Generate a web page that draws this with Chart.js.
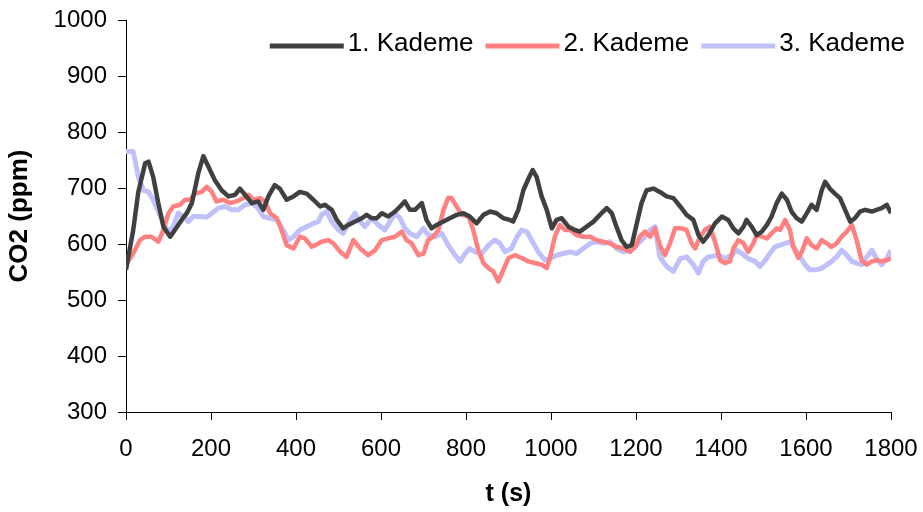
<!DOCTYPE html>
<html><head><meta charset="utf-8">
<script src="https://cdn.jsdelivr.net/npm/chart.js@4.4.0/dist/chart.umd.min.js"></script>
<style>html,body{margin:0;padding:0;background:#fff}#wrap{width:923px;height:512px}</style>
</head><body><div id="wrap"><canvas id="c" width="923" height="512"></canvas></div>
<script>
// ---- data ----
const seriesNames = ['1. Kademe', '2. Kademe', '3. Kademe'];

const t1 = [0,17,29,45,53,64,76,88,104,115,131,143,155,170,182,194,209,225,241,257,268,280,296,311,323,335,350,362,378,394,409,425,441,457,468,484,496,511,523,539,555,566,578,590,602,617,633,645,656,668,680,696,707,719,731,747,762,778,794,809,825,841,857,872,888,903,911,923,935,947,957,966,978,990,1002,1013,1025,1041,1056,1068,1084,1100,1115,1131,1143,1154,1166,1178,1190,1202,1213,1225,1241,1256,1272,1288,1304,1319,1335,1347,1358,1370,1386,1402,1417,1429,1441,1453,1460,1472,1484,1496,1508,1519,1531,1543,1555,1566,1578,1590,1602,1613,1625,1637,1645,1656,1668,1680,1692,1704,1715,1727,1739,1755,1766,1778,1790,1800];
const co2_1 = [554,625,693,744,747,720,673,631,613,625,643,655,673,726,757,738,714,696,685,688,699,688,673,676,661,685,705,699,679,685,693,690,679,667,670,661,643,628,634,640,646,652,646,646,655,649,658,667,676,661,661,673,643,628,634,640,646,652,655,649,637,652,658,655,646,643,640,661,696,717,732,720,685,661,628,643,646,631,625,622,631,640,652,664,655,631,607,595,598,637,673,696,699,693,685,682,667,652,643,616,604,616,637,649,643,628,619,631,643,631,616,622,634,649,673,690,679,658,646,640,655,670,661,696,711,699,690,682,661,640,646,658,661,658,661,664,670,655];

const t2 = [0,17,33,45,60,76,88,100,111,127,139,151,162,178,190,202,213,229,245,260,276,288,300,315,327,339,355,366,378,394,409,421,437,453,460,476,488,504,519,535,551,570,586,602,617,633,649,660,672,688,700,711,723,735,747,758,766,778,790,806,817,829,841,853,864,876,888,900,915,931,947,962,978,990,998,1009,1021,1033,1045,1060,1076,1092,1107,1123,1139,1154,1170,1186,1198,1209,1221,1233,1245,1256,1268,1280,1292,1307,1319,1331,1339,1351,1362,1374,1386,1398,1409,1421,1429,1441,1453,1464,1476,1484,1496,1508,1519,1531,1539,1551,1562,1570,1582,1590,1602,1613,1625,1637,1649,1660,1672,1684,1696,1708,1719,1731,1743,1755,1766,1778,1790,1800];
const co2_2 = [563,583,607,613,613,604,625,655,667,670,679,679,690,693,702,693,676,679,673,676,682,688,679,682,676,655,646,625,598,592,613,610,595,601,604,607,601,586,577,607,592,580,589,607,610,613,622,607,601,580,583,607,613,625,661,682,682,667,652,649,625,589,566,557,551,533,554,575,580,575,569,566,563,557,577,613,634,625,625,616,613,613,607,604,601,595,592,586,595,613,622,613,628,598,580,601,628,628,625,601,592,613,625,631,604,571,566,569,592,607,601,586,601,616,613,610,619,628,625,643,625,595,575,586,610,598,592,607,601,595,601,613,622,634,607,571,563,569,571,569,571,575];

const t3 = [0,17,29,41,53,64,76,88,100,111,123,135,147,158,174,190,202,217,233,249,264,280,296,311,323,339,355,370,382,394,409,425,441,453,460,472,484,500,511,523,539,551,562,578,594,609,621,633,645,656,668,684,700,711,727,743,758,774,786,798,809,821,837,853,868,880,892,907,920,931,943,954,970,986,998,1013,1029,1045,1060,1076,1092,1107,1123,1139,1154,1170,1186,1202,1217,1233,1245,1256,1272,1288,1304,1319,1335,1347,1358,1370,1394,1409,1425,1437,1449,1464,1480,1492,1504,1515,1527,1539,1551,1562,1574,1586,1598,1609,1625,1637,1649,1660,1672,1684,1696,1708,1719,1731,1743,1755,1766,1778,1790,1800];
const co2_3 = [765,765,720,696,693,679,658,637,622,631,655,649,640,649,649,648,655,664,667,661,661,670,673,664,649,646,643,625,607,613,625,631,637,640,652,658,640,625,619,637,655,640,631,646,634,625,640,655,646,628,619,613,628,616,613,619,598,580,569,583,592,586,583,598,607,601,586,592,613,625,622,607,586,571,574,580,583,586,583,592,601,604,601,604,592,586,589,598,610,625,631,577,560,551,574,577,563,548,569,577,580,574,580,589,583,574,569,560,571,583,595,598,601,604,592,577,563,554,554,557,563,569,577,589,580,569,566,563,577,589,574,563,574,589];

const xTickValues = [0,200,400,600,800,1000,1200,1400,1600,1800];
const yTickValues = [300,400,500,600,700,800,900,1000];

// ---- styles ----
const FONT = '"Liberation Sans", Arial, sans-serif';
const lineColors = ['#404040', '#FF8080', '#C0C0FA'];
const lineWidths = [4.5, 4.5, 5];

const toPoints = (ts, vs) => ts.map((t, i) => ({x: t, y: vs[i]}));
const seriesT = [t1, t2, t3];
const seriesV = [co2_1, co2_2, co2_3];

const datasets = seriesNames.map((name, i) => ({
  label: name,
  data: toPoints(seriesT[i], seriesV[i]),
  borderColor: lineColors[i],
  backgroundColor: lineColors[i],
  borderWidth: lineWidths[i],
  pointRadius: 0,
  tension: 0,
  borderJoinStyle: 'round',
  fill: false
}));

const legendPlugin = {
  id: 'insideLegend',
  afterDraw(chart) {
    const ctx = chart.ctx;
    ctx.save();
    ctx.font = '26px ' + FONT;
    ctx.textBaseline = 'middle';
    ctx.textAlign = 'left';
    let x = 905;
    const yText = 44, yLine = 46;
    const ds = chart.data.datasets;
    for (let i = ds.length - 1; i >= 0; i--) {
      const w = ctx.measureText(ds[i].label).width;
      x -= w;
      ctx.fillStyle = '#000';
      ctx.fillText(ds[i].label, x, yText);
      x -= 4;
      ctx.strokeStyle = ds[i].borderColor;
      ctx.lineWidth = 5;
      ctx.beginPath();
      ctx.moveTo(x - 74, yLine);
      ctx.lineTo(x, yLine);
      ctx.stroke();
      x -= 74 + 12;
    }
    ctx.restore();
  }
};

new Chart(document.getElementById('c'), {
  type: 'line',
  data: { datasets },
  options: {
    responsive: false,
    animation: false,
    layout: { padding: { left: 0, right: 32, top: 20, bottom: 0 } },
    plugins: { legend: { display: false }, tooltip: { enabled: false } },
    scales: {
      x: {
        type: 'linear', min: 0, max: 1800,
        afterBuildTicks: s => { s.ticks = xTickValues.map(v => ({value: v})); },
        afterFit: s => { s.height = 100; s.paddingLeft = 0; s.paddingRight = 0; },
        grid: { drawOnChartArea: false, drawTicks: true, tickLength: 8, color: '#000', lineWidth: 1 },
        border: { display: true, color: '#000', width: 1 },
        ticks: { font: { family: FONT, size: 24 }, color: '#000', padding: 15, maxRotation: 0, autoSkip: false, callback: v => String(v) },
        title: { display: true, text: 't (s)', color: '#000', font: { family: FONT, size: 25, weight: 'bold' }, padding: { top: 0, bottom: 3 } }
      },
      y: {
        type: 'linear', min: 300, max: 1000,
        afterBuildTicks: s => { s.ticks = yTickValues.map(v => ({value: v})); },
        afterFit: s => { s.width = 126; s.paddingTop = 0; s.paddingBottom = 0; },
        grid: { drawOnChartArea: false, drawTicks: true, tickLength: 8, color: '#000', lineWidth: 1 },
        border: { display: true, color: '#000', width: 1 },
        ticks: { font: { family: FONT, size: 24 }, color: '#000', padding: 11, callback: v => String(v) },
        title: { display: true, text: 'CO2 (ppm)', color: '#000', font: { family: FONT, size: 26, weight: 'bold' }, padding: { top: 4, bottom: 0 } }
      }
    }
  },
  plugins: [legendPlugin]
});
</script>
</body></html>
